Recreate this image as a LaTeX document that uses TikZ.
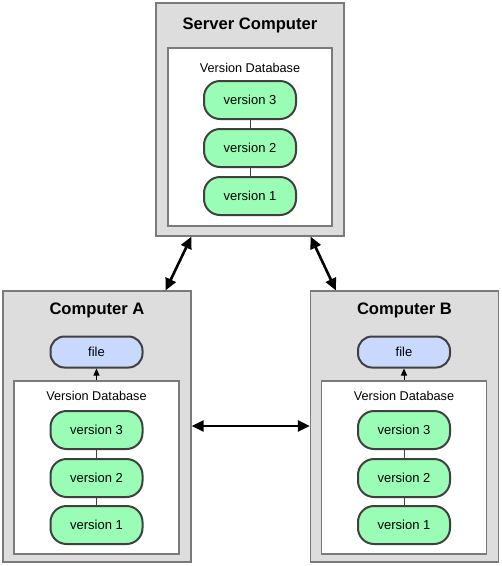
\documentclass[tikz,border=0pt]{standalone}
\usepackage{fontspec}
\setmainfont{Liberation Sans}
\usetikzlibrary{arrows.meta,calc}
\definecolor{boxgray}{HTML}{DDDDDD}
\definecolor{boxline}{HTML}{7A7A7A}
\definecolor{pillgreen}{HTML}{99FDB5}
\definecolor{pillblue}{HTML}{C8D8FF}
\definecolor{pillline}{HTML}{404040}
\tikzset{
  outerbox/.style={draw=boxline, fill=boxgray, line width=1.2pt, minimum width=188pt, inner sep=0pt},
  innerbox/.style={draw=boxline, fill=white, line width=1.1pt, minimum width=165pt, inner sep=0pt},
  pill/.style={draw=pillline, line width=2pt, rounded corners=16pt, minimum width=92pt, minimum height=38pt, inner sep=0pt, font=\fontsize{13}{15}\selectfont},
  verpill/.style={pill, fill=pillgreen},
  filepill/.style={pill, fill=pillblue, minimum height=31pt, rounded corners=14pt},
  titletext/.style={font=\fontsize{16.6}{18}\selectfont\bfseries, inner sep=0pt},
  dbtext/.style={font=\fontsize{12.7}{14}\selectfont, inner sep=0pt},
  link/.style={draw=pillline, line width=0.9pt},
  bigarrow/.style={line width=2.6pt, {Triangle[length=12pt,width=11pt]}-{Triangle[length=12pt,width=11pt]}},
  smallarrow/.style={line width=1pt, -{Triangle[length=7pt,width=6pt]}},
}
\begin{document}
\begin{tikzpicture}[x=1pt,y=-1pt]
\useasboundingbox (0,0) rectangle (502,566);
% Server
\node[outerbox, minimum height=233pt] (srv) at (250,119.5) {};
\node[innerbox, minimum width=164pt, minimum height=178pt] (srvdb) at (250,137) {};
\node[titletext] (srvt) at (250,25) {Server Computer};
\node[dbtext] (srvdbt) at (250,67.5) {Version Database};
\node[verpill] (s3) at (250,100) {version 3};
\node[verpill] (s2) at (250,148) {version 2};
\node[verpill] (s1) at (250,196) {version 1};
\draw[link] (s3) -- (s2);
\draw[link] (s2) -- (s1);
% Computer A
\node[outerbox, minimum height=271pt] (A) at (97,426.5) {};
\node[innerbox, minimum height=173pt] (Adb) at (96.5,467.5) {};
\node[titletext] (At) at (97,310) {Computer A};
\node[filepill] (Af) at (96.5,352) {file};
\node[dbtext] (Adbt) at (96.5,396) {Version Database};
\node[verpill] (a3) at (96.5,430) {version 3};
\node[verpill] (a2) at (96.5,478) {version 2};
\node[verpill] (a1) at (96.5,525) {version 1};
\draw[link] (a3) -- (a2);
\draw[link] (a2) -- (a1);
\draw[smallarrow] (Adb.north) -- (Af.south);
% Computer B
\node[outerbox, minimum height=271pt] (B) at (404.5,426.5) {};
\node[innerbox, minimum height=173pt] (Bdb) at (404,467.5) {};
\node[titletext] (Bt) at (404.5,310) {Computer B};
\node[filepill] (Bf) at (404,352) {file};
\node[dbtext] (Bdbt) at (404,396) {Version Database};
\node[verpill] (b3) at (404,430) {version 3};
\node[verpill] (b2) at (404,478) {version 2};
\node[verpill] (b1) at (404,525) {version 1};
\draw[link] (b3) -- (b2);
\draw[link] (b2) -- (b1);
\draw[smallarrow] (Bdb.north) -- (Bf.south);
% Arrows
\draw[bigarrow] ([xshift=36pt]srv.south west) -- ([xshift=-26pt]A.north east);
\draw[bigarrow] ([xshift=-34pt]srv.south east) -- ([xshift=26pt]B.north west);
\draw[bigarrow] ([yshift=0.5pt]A.east) -- ([yshift=0.5pt]B.west);
\end{tikzpicture}
\end{document}
